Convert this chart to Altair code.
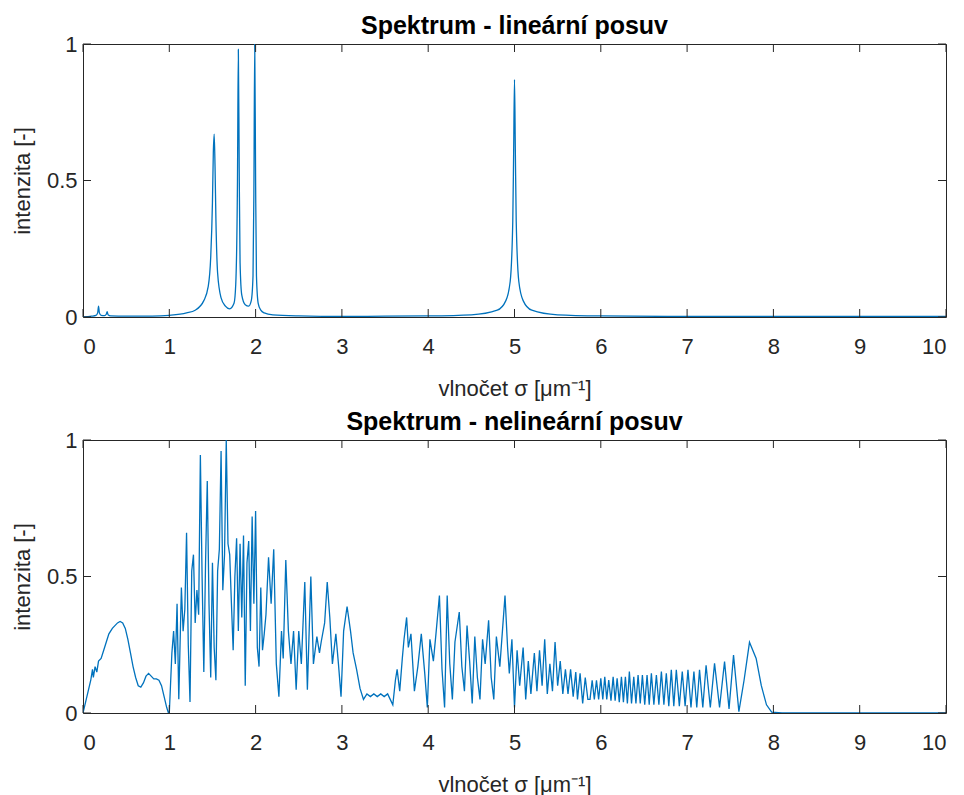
import altair as alt
import pandas as pd

# ---------------- data ----------------
x_ticks = [0, 1, 2, 3, 4, 5, 6, 7, 8, 9, 10]
y_ticks = [0, 0.5, 1]

top_x = [0.00, 0.10, 0.15, 0.17, 0.18, 0.19, 0.21, 0.25, 0.27, 0.28, 0.29, 0.32, 0.50, 0.80,
         1.00, 1.20, 1.30, 1.40, 1.45, 1.48, 1.50, 1.51, 1.52, 1.53, 1.54, 1.56, 1.60, 1.65,
         1.70, 1.75, 1.77, 1.79, 1.80, 1.81, 1.82, 1.84, 1.88, 1.92, 1.95, 1.97, 1.98, 1.99,
         2.00, 2.01, 2.03, 2.06, 2.10, 2.20, 2.50, 3.00, 3.50, 4.00, 4.50, 4.80, 4.90, 4.95,
         4.98, 4.99, 5.00, 5.01, 5.02, 5.05, 5.10, 5.20, 5.50, 6.00, 7.00, 8.00, 9.00, 10.00]
top_y = [0.000, 0.003, 0.006, 0.015, 0.040, 0.015, 0.006, 0.005, 0.010, 0.020, 0.008, 0.004, 0.003, 0.003,
         0.006, 0.015, 0.025, 0.060, 0.110, 0.220, 0.420, 0.600, 0.670, 0.550, 0.360, 0.160, 0.070, 0.040,
         0.030, 0.050, 0.120, 0.500, 0.980, 0.550, 0.200, 0.080, 0.045, 0.040, 0.060, 0.150, 0.450, 1.000,
         0.500, 0.150, 0.050, 0.025, 0.015, 0.008, 0.004, 0.002, 0.003, 0.004, 0.008, 0.025, 0.060, 0.130,
         0.350, 0.600, 0.870, 0.600, 0.350, 0.130, 0.060, 0.025, 0.008, 0.004, 0.002, 0.002, 0.002, 0.002]

bot_x_a = [0.00, 0.03, 0.06, 0.09, 0.11, 0.12, 0.14, 0.16, 0.18, 0.21, 0.24, 0.27, 0.30, 0.34,
           0.37, 0.40, 0.43, 0.46, 0.49, 0.52, 0.55, 0.58, 0.61, 0.64, 0.67, 0.70, 0.73, 0.76,
           0.79, 0.82, 0.85, 0.88, 0.91, 0.94, 0.97, 0.99]
bot_y_a = [0.00, 0.04, 0.08, 0.12, 0.16, 0.13, 0.17, 0.15, 0.19, 0.20, 0.23, 0.26, 0.29, 0.31,
           0.32, 0.33, 0.335, 0.33, 0.31, 0.27, 0.22, 0.17, 0.13, 0.10, 0.095, 0.11, 0.135, 0.145,
           0.135, 0.125, 0.125, 0.12, 0.10, 0.06, 0.02, 0.00]

bot_x_b = [1.00, 1.03, 1.05, 1.07, 1.09, 1.11, 1.14, 1.16, 1.18, 1.20, 1.22, 1.24, 1.26, 1.28,
           1.30, 1.32, 1.34, 1.36, 1.38, 1.40, 1.42, 1.44, 1.46, 1.48, 1.50, 1.52, 1.54, 1.56,
           1.58, 1.60, 1.62, 1.64, 1.66, 1.68, 1.70, 1.72, 1.74, 1.76, 1.78, 1.80, 1.82, 1.84,
           1.86, 1.88, 1.90, 1.92, 1.94, 1.96, 1.98, 2.00, 2.02, 2.04, 2.06, 2.08, 2.10, 2.12,
           2.15, 2.18, 2.21, 2.24, 2.27, 2.30, 2.32, 2.35, 2.38, 2.41, 2.44, 2.47, 2.50, 2.53,
           2.57, 2.60, 2.64, 2.67, 2.71, 2.74, 2.76, 2.80, 2.83, 2.86, 2.89, 2.93, 2.96, 2.99,
           3.02, 3.06, 3.10, 3.13, 3.17, 3.21, 3.25, 3.29, 3.33, 3.37, 3.41, 3.45, 3.49, 3.53,
           3.56, 3.59, 3.62]
bot_y_b = [0.00, 0.22, 0.30, 0.18, 0.40, 0.05, 0.46, 0.30, 0.38, 0.66, 0.25, 0.04, 0.52, 0.58,
           0.33, 0.45, 0.36, 0.945, 0.50, 0.15, 0.55, 0.85, 0.40, 0.13, 0.55, 0.24, 0.12, 0.52,
           0.60, 0.96, 0.45, 0.58, 1.00, 0.62, 0.58, 0.40, 0.23, 0.50, 0.64, 0.30, 0.62, 0.35,
           0.65, 0.10, 0.55, 0.63, 0.30, 0.72, 0.40, 0.74, 0.24, 0.17, 0.46, 0.23, 0.29, 0.36,
           0.57, 0.40, 0.60, 0.18, 0.06, 0.30, 0.20, 0.56, 0.30, 0.18, 0.30, 0.085, 0.30, 0.18,
           0.48, 0.085, 0.50, 0.18, 0.28, 0.22, 0.26, 0.33, 0.48, 0.35, 0.18, 0.29, 0.18, 0.06,
           0.30, 0.39, 0.30, 0.22, 0.16, 0.09, 0.05, 0.07, 0.06, 0.07, 0.06, 0.07, 0.06, 0.07,
           0.05, 0.03, 0.12]

bot_x_c = [3.64, 3.67, 3.70, 3.72, 3.75, 3.77, 3.80, 3.84, 3.88, 3.92, 3.96, 3.99, 4.02, 4.06,
           4.09, 4.13, 4.16, 4.19, 4.22, 4.25, 4.28, 4.31, 4.36, 4.39, 4.42, 4.45, 4.48, 4.51,
           4.54, 4.57, 4.60, 4.63, 4.66, 4.70, 4.73, 4.76, 4.79, 4.83, 4.86, 4.89, 4.92, 4.94,
           4.97, 5.00, 5.03, 5.06, 5.10, 5.13, 5.16, 5.19, 5.23, 5.26, 5.29, 5.32, 5.35, 5.38,
           5.41, 5.44, 5.47, 5.50, 5.53, 5.56, 5.59, 5.62, 5.65, 5.68, 5.71, 5.73, 5.76, 5.79,
           5.82, 5.85]
bot_y_c = [0.16, 0.08, 0.20, 0.27, 0.35, 0.24, 0.29, 0.08, 0.17, 0.29, 0.145, 0.02, 0.27, 0.19,
           0.29, 0.43, 0.16, 0.02, 0.43, 0.18, 0.05, 0.26, 0.37, 0.17, 0.08, 0.32, 0.19, 0.035,
           0.28, 0.13, 0.05, 0.27, 0.18, 0.34, 0.13, 0.05, 0.28, 0.17, 0.30, 0.43, 0.24, 0.145,
           0.27, 0.02, 0.23, 0.10, 0.24, 0.05, 0.19, 0.07, 0.22, 0.08, 0.23, 0.10, 0.27, 0.07,
           0.18, 0.08, 0.26, 0.10, 0.19, 0.07, 0.16, 0.07, 0.16, 0.06, 0.15, 0.05, 0.145, 0.035,
           0.13, 0.05]

bot_x_d = [5.875, 5.90, 5.925, 5.95, 5.975, 6.00, 6.023, 6.046, 6.069, 6.092, 6.118, 6.143, 6.166,
           6.189, 6.214, 6.239, 6.262, 6.285, 6.308, 6.331, 6.356, 6.382, 6.407, 6.432, 6.457,
           6.482, 6.509, 6.536, 6.561, 6.586, 6.615, 6.644, 6.673, 6.702, 6.731, 6.759, 6.788,
           6.817, 6.846, 6.875, 6.910, 6.944, 6.977, 7.010, 7.045, 7.079, 7.112, 7.144, 7.182,
           7.220, 7.269, 7.318, 7.376, 7.434, 7.486, 7.538, 7.600, 7.660, 7.723, 7.800, 7.860,
           7.920, 7.980, 8.100, 9.000, 10.000]
bot_y_d = [0.05, 0.12, 0.05, 0.12, 0.05, 0.127, 0.05, 0.133, 0.05, 0.121, 0.045, 0.133, 0.045,
           0.127, 0.04, 0.133, 0.04, 0.133, 0.035, 0.152, 0.035, 0.133, 0.035, 0.139, 0.035,
           0.139, 0.03, 0.139, 0.03, 0.145, 0.03, 0.139, 0.03, 0.152, 0.03, 0.145, 0.025,
           0.158, 0.025, 0.158, 0.025, 0.152, 0.025, 0.158, 0.02, 0.152, 0.02, 0.158, 0.02,
           0.175, 0.02, 0.182, 0.02, 0.188, 0.015, 0.212, 0.005, 0.12, 0.259, 0.20, 0.10,
           0.03, 0.003, 0.0, 0.0, 0.0]

# ---------------- chart ----------------
W, H = 863, 273
FONT = "Liberation Sans"
AX = "#262626"
LINE = "#0072BD"
TICK_LEN = 8

df_top = pd.DataFrame({"x": top_x, "y": top_y})
df_bot = pd.DataFrame({"x": bot_x_a + bot_x_b + bot_x_c + bot_x_d,
                       "y": bot_y_a + bot_y_b + bot_y_c + bot_y_d})
df_xt = pd.DataFrame({"x": x_ticks})
df_yt = pd.DataFrame({"y": y_ticks})

xscale = alt.Scale(domain=[0, 10], nice=False, zero=False)
yscale = alt.Scale(domain=[0, 1], nice=False, zero=False)
xaxis = alt.Axis(values=x_ticks, title="vlnočet σ [μm⁻¹]", ticks=False,
                 domain=False, grid=False, format="d", labelPadding=19, titlePadding=21)
yaxis = alt.Axis(values=y_ticks, title="intenzita [-]", ticks=False,
                 domain=False, grid=False, format="~g", labelPadding=6, titlePadding=12)


def panel(df, title, interp):
    line = alt.Chart(df).mark_line(color=LINE, strokeWidth=1.3, clip=True,
                                   interpolate=interp).encode(
        x=alt.X("x:Q", scale=xscale, axis=xaxis),
        y=alt.Y("y:Q", scale=yscale, axis=yaxis),
        order=alt.Order("x:Q"),
    )
    xt = alt.Chart(df_xt)
    yt = alt.Chart(df_yt)
    t_bottom = xt.mark_rule(color=AX, strokeWidth=1).encode(
        x=alt.X("x:Q", scale=xscale, axis=xaxis), y=alt.value(H), y2=alt.value(H - TICK_LEN))
    t_top = xt.mark_rule(color=AX, strokeWidth=1).encode(
        x=alt.X("x:Q", scale=xscale, axis=xaxis), y=alt.value(0), y2=alt.value(TICK_LEN))
    t_left = yt.mark_rule(color=AX, strokeWidth=1).encode(
        y=alt.Y("y:Q", scale=yscale, axis=yaxis), x=alt.value(0), x2=alt.value(TICK_LEN))
    t_right = yt.mark_rule(color=AX, strokeWidth=1).encode(
        y=alt.Y("y:Q", scale=yscale, axis=yaxis), x=alt.value(W), x2=alt.value(W - TICK_LEN))
    return alt.layer(line, t_bottom, t_top, t_left, t_right).properties(
        width=W, height=H,
        title=alt.TitleParams(title, fontSize=25, fontWeight="bold", font=FONT,
                              color="#000000", offset=-6, anchor="middle"),
    )


chart = alt.vconcat(
    panel(df_top, "Spektrum - lineární posuv", "monotone"),
    panel(df_bot, "Spektrum - nelineární posuv", "linear"),
    spacing=9,
).properties(
    padding={"left": 10, "top": 13, "right": 5, "bottom": 5},
    background="white",
).configure_view(
    stroke=AX, strokeWidth=1,
).configure_axis(
    labelFont=FONT, titleFont=FONT, labelFontSize=22, titleFontSize=22,
    labelColor=AX, titleColor=AX, titleFontWeight="normal",
)

chart.save("out.html", embed_options={"renderer": "svg", "actions": False})
